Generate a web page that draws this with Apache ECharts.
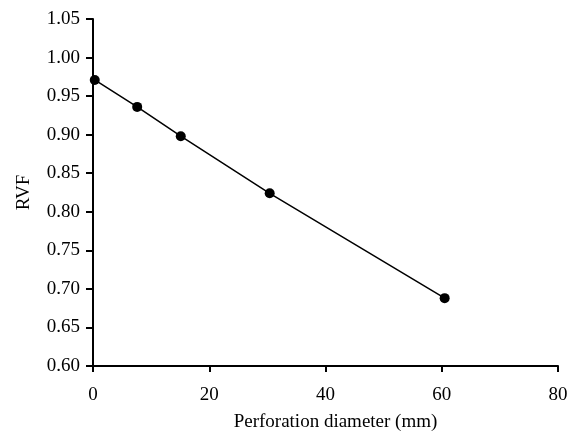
<!DOCTYPE html>
<html>
<head>
<meta charset="utf-8">
<script src="https://cdn.jsdelivr.net/npm/echarts@6/dist/echarts.min.js"></script>
<style>
  html, body { margin: 0; padding: 0; background: #fff; }
  #chart { width: 576px; height: 437px; }
</style>
</head>
<body>
<div id="chart"></div>
<script>
// Relative value factor versus perforation diameter
const diameters = [0.3, 7.6, 15.1, 30.4, 60.5];
const rvf = [0.971, 0.936, 0.898, 0.824, 0.688];
const xTicks = [0, 20, 40, 60, 80];
const yTicks = [0.60, 0.65, 0.70, 0.75, 0.80, 0.85, 0.90, 0.95, 1.00, 1.05];

const font = '"Liberation Serif", "Times New Roman", serif';
const chart = echarts.init(document.getElementById('chart'));

chart.setOption({
  animation: false,
  backgroundColor: '#fff',
  grid: { left: 93, right: 18, top: 19, bottom: 67 },
  xAxis: {
    type: 'value',
    min: xTicks[0],
    max: xTicks[xTicks.length - 1],
    interval: 20,
    name: 'Perforation diameter (mm)',
    nameLocation: 'middle',
    nameGap: 47,
    nameTextStyle: { fontFamily: font, fontSize: 19, color: '#000', padding: [0, 0, 0, 20] },
    axisLine: { lineStyle: { color: '#000', width: 2 } },
    axisTick: { show: true, length: 6, lineStyle: { color: '#000', width: 2 } },
    axisLabel: { fontFamily: font, fontSize: 19, color: '#000', margin: 20 },
    splitLine: { show: false }
  },
  yAxis: {
    type: 'value',
    min: yTicks[0],
    max: yTicks[yTicks.length - 1],
    interval: 0.05,
    name: 'RVF',
    nameLocation: 'middle',
    nameGap: 59,
    nameTextStyle: { fontFamily: font, fontSize: 19, color: '#000' },
    axisLine: { show: true, lineStyle: { color: '#000', width: 2 } },
    axisTick: { show: true, length: 7, lineStyle: { color: '#000', width: 2 } },
    axisLabel: {
      fontFamily: font, fontSize: 19, color: '#000', margin: 13,
      formatter: v => v.toFixed(2)
    },
    splitLine: { show: false }
  },
  series: [{
    type: 'line',
    data: diameters.map((d, i) => [d, rvf[i]]),
    symbol: 'circle',
    symbolSize: 10,
    lineStyle: { color: '#000', width: 1.5 },
    itemStyle: { color: '#000' }
  }]
});
</script>
</body>
</html>
